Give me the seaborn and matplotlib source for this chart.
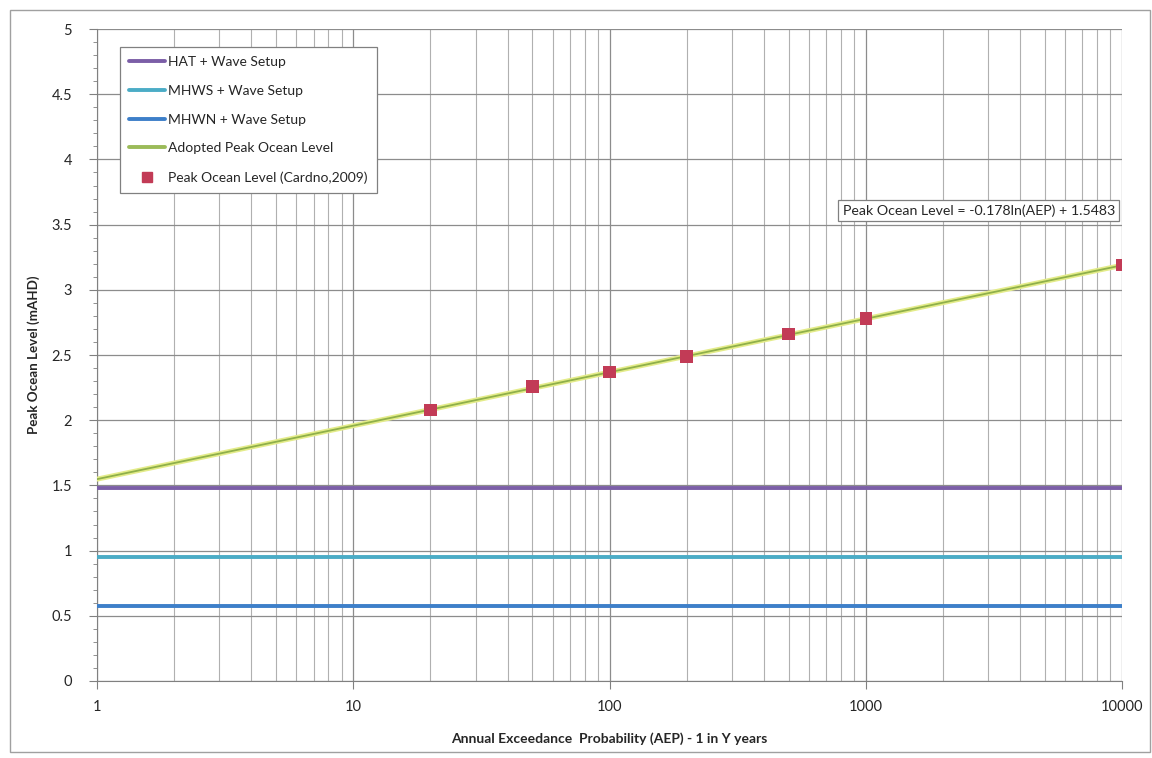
import numpy as np
import pandas as pd
import matplotlib
matplotlib.use("Agg")
import matplotlib.pyplot as plt
import matplotlib.patheffects as pe
from matplotlib.patches import Rectangle
from matplotlib.lines import Line2D
from matplotlib.ticker import LogLocator, FixedLocator, MultipleLocator, NullFormatter
import seaborn as sns

# ---- data ----
aep_points = [20, 50, 100, 200, 500, 1000, 10000]
peak_levels = [2.08, 2.26, 2.37, 2.49, 2.66, 2.78, 3.19]
adopted_x = [1, 10000]
adopted_y = [1.548, 3.188]
hat_level = 1.48
mhws_level = 0.95
mhwn_level = 0.575
x_range = [1, 10000]
x_ticks = [1, 10, 100, 1000, 10000]
x_tick_labels = ["1", "10", "100", "1000", "10000"]
y_ticks = [0, 0.5, 1, 1.5, 2, 2.5, 3, 3.5, 4, 4.5, 5]
y_tick_labels = ["0", "0.5", "1", "1.5", "2", "2.5", "3", "3.5", "4", "4.5", "5"]
equation = "Peak Ocean Level = -0.178ln(AEP) + 1.5483"

sns.set_style("white")
plt.rcParams['font.family'] = ['Lato', 'DejaVu Sans']

fig = plt.figure(figsize=(11.52, 7.58), dpi=100)
ax = fig.add_axes([0.0842, 0.1016, 0.8898, 0.8601])

grid_col = "#8c8c8c"
ax.set_xscale("log")
ax.set_xlim(1, 10000)
ax.set_ylim(0, 5)

# grid
ax.xaxis.set_major_locator(FixedLocator(x_ticks))
ax.xaxis.set_minor_locator(LogLocator(base=10, subs=np.arange(2, 10)))
ax.xaxis.set_minor_formatter(NullFormatter())
ax.set_xticks(x_ticks)
ax.set_xticklabels(x_tick_labels)
ax.set_yticks(y_ticks)
ax.set_yticklabels(y_tick_labels)
ax.yaxis.set_minor_locator(MultipleLocator(0.1))
ax.grid(True, which="major", axis="both", color=grid_col, lw=0.9)
ax.grid(True, which="minor", axis="x", color="#b0b0b0", lw=0.8)

# horizontal lines
levels_df = pd.DataFrame({
    "x": x_range * 3,
    "y": [hat_level] * 2 + [mhws_level] * 2 + [mhwn_level] * 2,
    "series": ["HAT + Wave Setup"] * 2 + ["MHWS + Wave Setup"] * 2 + ["MHWN + Wave Setup"] * 2,
})
palette = {"HAT + Wave Setup": "#7b5ea7",
           "MHWS + Wave Setup": "#4bacc6",
           "MHWN + Wave Setup": "#3d7fc9"}
sns.lineplot(data=levels_df, x="x", y="y", hue="series", palette=palette,
             lw=2.8, ax=ax, legend=False, zorder=3)

# adopted line
adopt_df = pd.DataFrame({"x": adopted_x, "y": adopted_y})
sns.lineplot(data=adopt_df, x="x", y="y", color="#8fb04a", lw=1.3, ax=ax,
             legend=False, zorder=4,
             path_effects=[pe.Stroke(linewidth=3.6, foreground="#e4ec8a"), pe.Normal()])

# points
pts_df = pd.DataFrame({"x": aep_points, "y": peak_levels})
sns.scatterplot(data=pts_df, x="x", y="y", marker="s", s=80, color="#c23b56",
                edgecolor="none", ax=ax, zorder=5, legend=False)

ax.set_xlim(1, 10000)
ax.set_ylim(0, 5)

# spines / ticks
for s in ["top", "right"]:
    ax.spines[s].set_visible(False)
ax.spines["left"].set_color("#808080")
ax.spines["bottom"].set_color("#808080")
ax.tick_params(axis="y", which="major", direction="out", length=6, color="#808080",
               labelsize=10.5, pad=12, left=True)
ax.tick_params(axis="y", which="minor", direction="out", length=3, color="#808080", left=True)
ax.tick_params(axis="x", which="major", direction="out", length=6, color="#808080",
               labelsize=10.5, pad=8, bottom=True)
ax.tick_params(axis="x", which="minor", length=0)

ax.set_xlabel("Annual Exceedance  Probability (AEP) - 1 in Y years", fontsize=10,
              fontweight="bold", labelpad=13)
ax.set_ylabel("Peak Ocean Level (mAHD)", fontsize=9.6, fontweight="bold", labelpad=8)

# legend
handles = [
    Line2D([], [], color=palette["HAT + Wave Setup"], lw=2.8),
    Line2D([], [], color=palette["MHWS + Wave Setup"], lw=2.8),
    Line2D([], [], color=palette["MHWN + Wave Setup"], lw=2.8),
    Line2D([], [], color="#9bbb59", lw=2.8),
    Line2D([], [], color="#c23b56", marker="s", ls="none", markersize=7),
]
labels = ["HAT + Wave Setup", "MHWS + Wave Setup", "MHWN + Wave Setup",
          "Adopted Peak Ocean Level", "Peak Ocean Level (Cardno,2009)"]
leg = ax.legend(handles, labels, loc="upper left", bbox_to_anchor=(0.022, 0.973),
                fontsize=10, frameon=True, fancybox=False, labelspacing=1.2,
                handlelength=2.6, handletextpad=0.2, borderpad=0.7, borderaxespad=0)
leg.get_frame().set_edgecolor("#808080")
leg.get_frame().set_linewidth(0.9)
leg.get_frame().set_facecolor("white")
leg.get_frame().set_alpha(1)
leg.set_zorder(10)

# equation box
ax.text(0.993, 0.722, equation, transform=ax.transAxes, ha="right", va="center",
        fontsize=10.2, zorder=10,
        bbox=dict(boxstyle="square,pad=0.3", fc="white", ec="#808080", lw=0.9))

# outer border
fig.patches.append(Rectangle((10 / 1152, 6 / 758), 1140 / 1152, 742 / 758,
                             transform=fig.transFigure, fill=False,
                             ec="#a0a0a0", lw=1.0))

fig.savefig("out.png", dpi=100)
